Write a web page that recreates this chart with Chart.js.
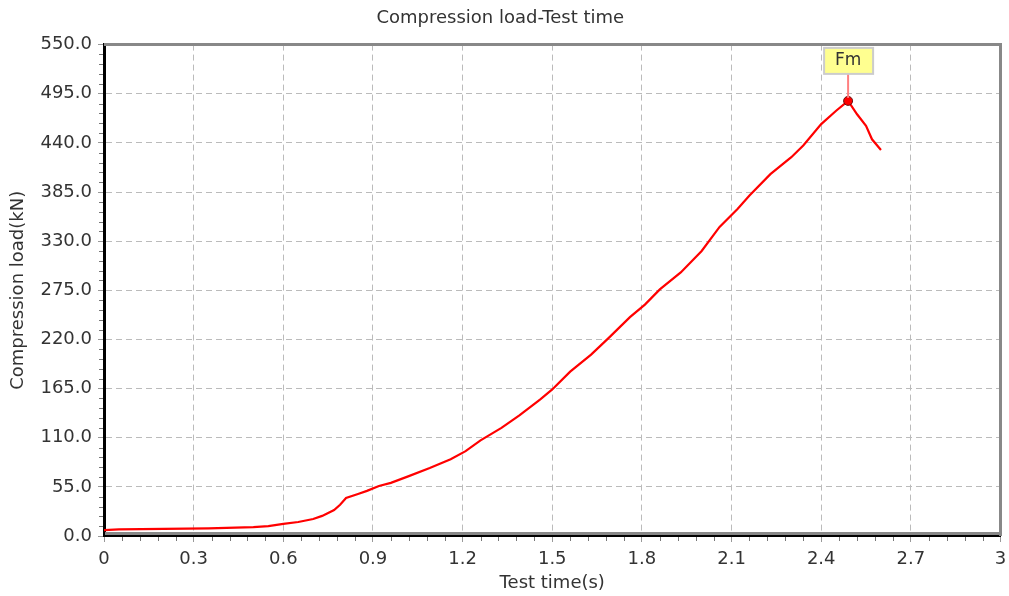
<!DOCTYPE html>
<html>
<head>
<meta charset="utf-8">
<script src="https://cdn.jsdelivr.net/npm/chart.js@4.4.0/dist/chart.umd.min.js"></script>
<style>
  html, body { margin: 0; padding: 0; background: #fff; }
  #wrap { width: 1009px; height: 596px; }
</style>
</head>
<body>
<div id="wrap"><canvas id="loadChart"></canvas></div>
<script>
// Test time (s) and compression load (kN)
const testTime = [0, 0.05, 0.2, 0.35, 0.5, 0.55, 0.6, 0.65, 0.7, 0.73, 0.77, 0.79, 0.81, 0.85, 0.88, 0.92,
    0.96, 1.02, 1.09, 1.16, 1.21, 1.26, 1.33, 1.39, 1.46, 1.5, 1.56, 1.63, 1.69, 1.76, 1.81, 1.86,
    1.93, 2.0, 2.06, 2.12, 2.16, 2.23, 2.3, 2.34, 2.4, 2.45, 2.49, 2.52, 2.55, 2.57, 2.6];
const compressionLoad = [6.5, 7.5, 8, 8.5, 10, 11, 13.5, 15.7, 19, 22.5, 29, 35, 42.5, 47, 50.5, 56,
    59.5, 67, 76, 86, 95, 107, 121, 135, 153, 164, 184, 203, 222, 245, 259, 276,
    295, 319, 346, 366, 381, 405, 424, 437, 461, 476, 487, 472, 459, 444, 432];
const peakIndex = 42; // Fm
const peakLabel = 'Fm';

const xTicks = [0, 0.3, 0.6, 0.9, 1.2, 1.5, 1.8, 2.1, 2.4, 2.7, 3];
const xTickLabels = ['0', '0.3', '0.6', '0.9', '1.2', '1.5', '1.8', '2.1', '2.4', '2.7', '3'];
const yTicks = [0, 55, 110, 165, 220, 275, 330, 385, 440, 495, 550];
const yTickLabels = ['0.0', '55.0', '110.0', '165.0', '220.0', '275.0', '330.0', '385.0', '440.0', '495.0', '550.0'];

const FONT = 'DejaVu Sans';

// frame, minor ticks and the gray line above the x axis
const framePlugin = {
    id: 'frame',
    afterDraw(chart) {
        const {ctx, chartArea: a, scales} = chart;
        ctx.save();
        ctx.strokeStyle = '#888';
        ctx.lineWidth = 3;
        ctx.beginPath();
        ctx.moveTo(a.left, a.top);
        ctx.lineTo(a.right, a.top);
        ctx.lineTo(a.right, a.bottom);
        ctx.stroke();

        ctx.beginPath();
        ctx.moveTo(a.left + 1, a.bottom - 2.5);
        ctx.lineTo(a.right, a.bottom - 2.5);
        ctx.stroke();

        // minor ticks
        ctx.strokeStyle = '#777';
        ctx.lineWidth = 1;
        ctx.beginPath();
        for (let i = 1; i < 50; i++) {
            if (i % 5 === 0) continue;
            const px = Math.round(scales.x.getPixelForValue(i * 0.06)) + 0.5;
            ctx.moveTo(px, a.bottom + 1);
            ctx.lineTo(px, a.bottom + 5);
        }
        for (let i = 1; i < 50; i++) {
            if (i % 5 === 0) continue;
            const py = Math.round(scales.y.getPixelForValue(i * 11)) + 0.5;
            ctx.moveTo(a.left - 5, py);
            ctx.lineTo(a.left - 1, py);
        }
        ctx.stroke();
        ctx.restore();
    }
};

// Fm label above the peak
const peakPlugin = {
    id: 'peakLabel',
    afterDatasetsDraw(chart) {
        const pt = chart.getDatasetMeta(0).data[peakIndex];
        if (!pt) return;
        const {ctx} = chart;
        const px = pt.x, py = pt.y;
        ctx.save();
        ctx.strokeStyle = '#ff8080';
        ctx.lineWidth = 2;
        ctx.beginPath();
        ctx.moveTo(px, py - 3);
        ctx.lineTo(px, py - 27);
        ctx.stroke();

        ctx.fillStyle = '#ffff90';
        ctx.strokeStyle = '#cccccc';
        ctx.lineWidth = 2;
        ctx.fillRect(px - 24, py - 53, 49, 26);
        ctx.strokeRect(px - 24, py - 53, 49, 26);

        ctx.fillStyle = '#333';
        ctx.font = '17px "' + FONT + '"';
        ctx.textAlign = 'center';
        ctx.textBaseline = 'middle';
        ctx.fillText(peakLabel, px, py - 40);
        ctx.restore();
    }
};

const ctx = document.getElementById('loadChart').getContext('2d');

new Chart(ctx, {
    type: 'line',
    data: {
        datasets: [{
            data: testTime.map((t, i) => ({x: t, y: compressionLoad[i]})),
            borderColor: '#ff0000',
            borderWidth: 2.2,
            tension: 0,
            fill: false,
            pointRadius: c => c.dataIndex === peakIndex ? 4.5 : 0,
            pointBackgroundColor: '#ff0000',
            pointBorderColor: '#661010',
            pointBorderWidth: 1,
        }]
    },
    plugins: [framePlugin, peakPlugin],
    options: {
        responsive: true,
        maintainAspectRatio: false,
        animation: false,
        layout: {
            padding: {left: 0, right: 8.5, top: 0, bottom: 0}
        },
        plugins: {
            legend: {display: false},
            tooltip: {enabled: false},
            title: {
                display: true,
                text: 'Compression load-Test time',
                color: '#333',
                font: {family: FONT, size: 18, weight: 'normal'},
                padding: {top: 7.5, bottom: 15.5}
            }
        },
        scales: {
            x: {
                type: 'linear',
                min: 0,
                max: 3,
                afterBuildTicks: s => { s.ticks = xTicks.map(v => ({value: v})); },
                afterFit: s => { s.height = 60; s.paddingRight = 0; s.paddingLeft = 0; },
                ticks: {
                    color: '#333',
                    font: {family: FONT, size: 18},
                    padding: 7,
                    maxRotation: 0,
                    callback: (v) => xTickLabels[xTicks.indexOf(v)] ?? ''
                },
                grid: {
                    color: '#bbbbbb',
                    lineWidth: 1,
                    tickLength: 6,
                    tickColor: '#999',
                    tickWidth: 1
                },
                border: {color: '#000', width: 2, dash: [6, 4]},
                title: {
                    display: true,
                    text: 'Test time(s)',
                    color: '#333',
                    font: {family: FONT, size: 18},
                    padding: {top: 0, bottom: 2}
                }
            },
            y: {
                min: 0,
                max: 550,
                afterBuildTicks: s => { s.ticks = yTicks.map(v => ({value: v})); },
                afterFit: s => { s.width = 104; s.paddingTop = 0; s.paddingBottom = 0; },
                ticks: {
                    color: '#333',
                    font: {family: FONT, size: 18},
                    padding: 6,
                    callback: (v) => yTickLabels[yTicks.indexOf(v)] ?? ''
                },
                grid: {
                    color: '#bbbbbb',
                    lineWidth: 1,
                    tickLength: 6,
                    tickColor: '#999',
                    tickWidth: 1
                },
                border: {color: '#000', width: 3, dash: [6, 4]},
                title: {
                    display: true,
                    text: 'Compression load(kN)',
                    color: '#333',
                    font: {family: FONT, size: 18},
                    padding: {top: 8, bottom: 0}
                }
            }
        }
    }
});
</script>
</body>
</html>
